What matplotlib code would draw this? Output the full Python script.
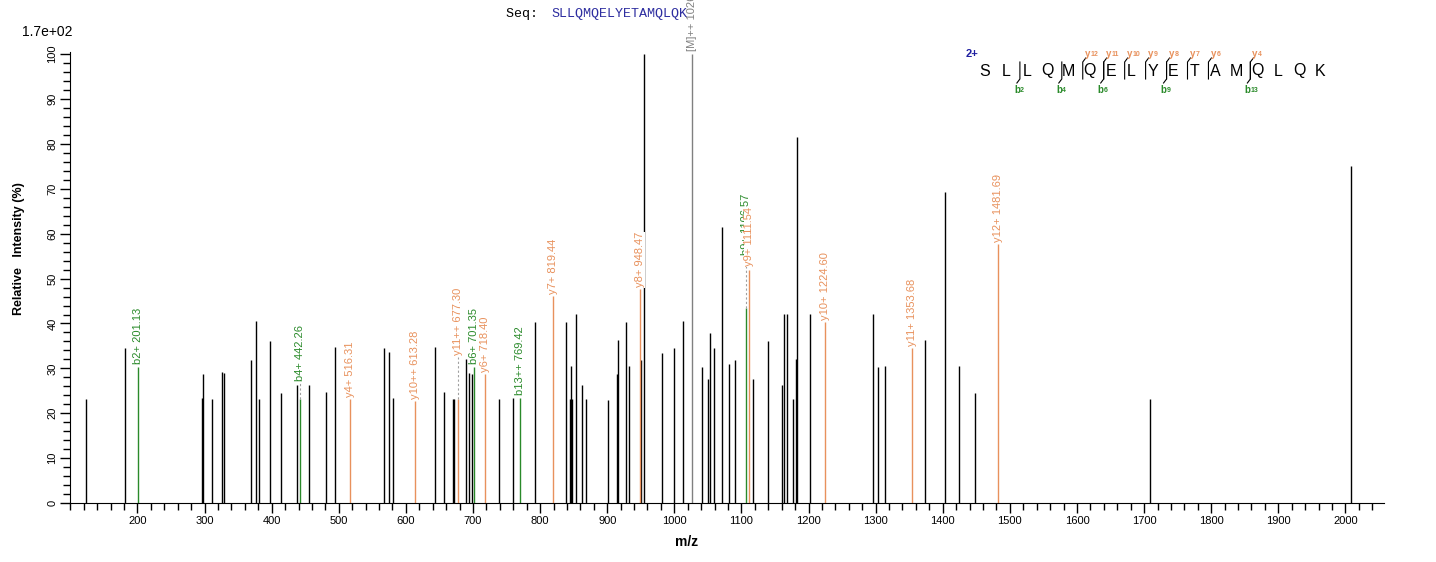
import numpy as np
import matplotlib.pyplot as plt

plt.rcParams['font.family'] = ['Liberation Sans', 'DejaVu Sans']

# unmatched peaks (m/z, relative intensity %)
mz = [123.7, 181.8, 295.7, 298.0, 310.6, 326.4, 329.4, 369.6, 377.0, 381.5,
      397.9, 414.3, 438.2, 456.0, 481.4, 494.8, 567.8, 575.3, 581.2, 644.0,
      657.5, 670.6, 672.1, 690.3, 694.5, 699.0, 739.0, 760.0, 792.9, 839.0,
      844.0, 846.5, 848.0, 854.0, 863.0, 869.0, 901.6, 914.0, 916.5, 927.6,
      933.0, 950.8, 955.0, 982.0, 1000.0, 1013.4, 1041.7, 1050.7, 1053.7, 1059.6,
      1070.6, 1082.0, 1091.0, 1117.8, 1140.0, 1161.0, 1164.0, 1168.4, 1177.0, 1181.0,
      1183.3, 1202.7, 1296.6, 1304.0, 1314.5, 1374.0, 1403.9, 1424.7, 1448.6, 1709.4,
      2008.5]
inten = [23.1, 34.6, 23.3, 28.8, 23.1, 29.3, 29.0, 31.9, 40.6, 23.1,
         36.1, 24.6, 26.3, 26.2, 24.8, 34.8, 34.6, 33.7, 23.3, 34.8,
         24.8, 23.2, 23.2, 32.1, 29.0, 28.7, 23.2, 23.5, 40.3, 40.3,
         23.2, 30.6, 23.2, 42.1, 26.4, 23.2, 23.0, 28.8, 36.3, 40.3,
         30.6, 31.9, 100.0, 33.5, 34.6, 40.6, 30.4, 27.7, 37.9, 34.6,
         61.4, 31.0, 31.9, 27.7, 36.1, 26.4, 42.1, 42.1, 23.2, 32.1,
         81.6, 42.1, 42.1, 30.4, 30.6, 36.3, 69.4, 30.6, 24.6, 23.2,
         75.0]

# matched fragment ions
ion_mz = [201.13, 442.26, 516.31, 613.28, 677.30, 701.35, 718.40, 769.42, 819.44,
          948.47, 1106.57, 1111.54, 1224.60, 1353.68, 1481.69]
ion_int = [30.4, 23.2, 23.2, 22.8, 23.2, 30.4, 28.7, 23.5, 46.1,
           47.6, 43.5, 52.0, 40.3, 34.6, 57.8]
ion_lab_y = [30.4, 26.8, 23.2, 22.8, 32.6, 30.4, 28.7, 23.5, 46.1,
             47.6, 54.8, 52.3, 40.3, 34.6, 57.8]
ion_name = ['b2+', 'b4+', 'y4+', 'y10++', 'y11++', 'b6+', 'y6+', 'b13++', 'y7+',
            'y8+', 'b9+', 'y9+', 'y10+', 'y11+', 'y12+']

prec_mz = 1026.8
prec_label = '[M]++ 1026.53'

sequence = 'SLLQMQELYETAMQLQK'
b_cuts = [2, 4, 6, 9, 13]
y_cuts = [12, 11, 10, 9, 8, 7, 6, 4]

green = '#2A8A2A'
orange = '#E8915C'

fig = plt.figure(figsize=(14.36, 5.62), dpi=100)
ax = fig.add_axes([70/1436, 1-503/562, 1314/1436, 451/562])

ax.vlines(mz, 0, inten, color='black', lw=1.0)
ax.vlines(prec_mz, 0, 100, color='#808080', lw=1.0)
ax.annotate(prec_label, xy=(prec_mz, 100), xytext=(0, 2), textcoords='offset points',
            rotation=90, ha='center', va='bottom', fontsize=8, color='#808080')

for m, h, ly, name in zip(ion_mz, ion_int, ion_lab_y, ion_name):
    c = green if name.startswith('b') else orange
    ax.vlines(m, 0, h, color=c, lw=1.0)
    if ly > h + 0.5:
        ax.vlines(m, h, ly, color='#A0A0A0', lw=0.8, linestyles=(0, (2, 2)))
    ax.annotate('%s %.2f' % (name, m), xy=(m, ly), xytext=(0, 1.5),
                textcoords='offset points', rotation=90, ha='center', va='bottom',
                fontsize=8, color=c,
                bbox=dict(facecolor='white', edgecolor='none', pad=0.3))

ax.set_xlim(99.5, 2057.5)
ax.set_ylim(0, 100.5)
ax.spines['top'].set_visible(False)
ax.spines['right'].set_visible(False)
ax.set_xticks(np.arange(200, 2001, 100))
ax.set_xticks(np.arange(100, 2041, 20), minor=True)
ax.set_yticks(np.arange(0, 101, 10))
ax.set_yticks(np.arange(0, 101, 2), minor=True)
ax.tick_params(axis='both', which='major', length=7, width=1, labelsize=8, pad=2)
ax.tick_params(axis='both', which='minor', length=5, width=1)
for t in ax.get_yticklabels():
    t.set_rotation(90)
    t.set_va('center')
ax.set_xlabel('m/z', fontsize=10, fontweight='bold')
ax.xaxis.set_label_coords(0.469, -0.072)
ax.set_ylabel('Relative   Intensity (%)', fontsize=9, fontweight='bold')
ax.yaxis.set_label_coords(-0.034, 0.565)

# overlay in pixel space for the header items
ov = fig.add_axes([0, 0, 1, 1])
ov.set_xlim(0, 1436)
ov.set_ylim(562, 0)
ov.axis('off')
ov.patch.set_alpha(0)

ov.text(22, 32, '1.7e+02', fontsize=10, va='center', ha='left')
ov.text(506, 14, 'Seq: ', fontsize=9.6, family='Liberation Mono', va='center', ha='left')
ov.text(551, 14, sequence, fontsize=9.6, family='Liberation Mono', va='center', ha='left',
        color='#2E2EA0')

x0, dx, yl = 985, 20.95, 71
ov.text(966, 54, '2+', fontsize=8, fontweight='bold', color='#1F1FA0', va='center')
for i, aa in enumerate(sequence):
    ov.text(x0 + i*dx, yl, aa, fontsize=11.5, ha='center', va='center')
for k in b_cuts:
    cx = x0 + k*dx - 7
    ov.plot([cx, cx, cx-3], [62, 79, 83], color='black', lw=0.8)
    ov.text(cx, 90, 'b', fontsize=7, fontweight='bold', color=green, ha='right', va='center')
    ov.text(cx, 91, str(k), fontsize=5, fontweight='bold', color=green, ha='left', va='center')
for n in y_cuts:
    k = len(sequence) - n
    cx = x0 + k*dx - 7
    ov.plot([cx+3, cx, cx], [58, 62, 79], color='black', lw=0.8)
    ov.text(cx+2, 54, 'y', fontsize=7, fontweight='bold', color=orange, ha='left', va='center')
    ov.text(cx+8, 55, str(n), fontsize=5, fontweight='bold', color=orange, ha='left', va='center')

fig.savefig('out.png', dpi=100)
